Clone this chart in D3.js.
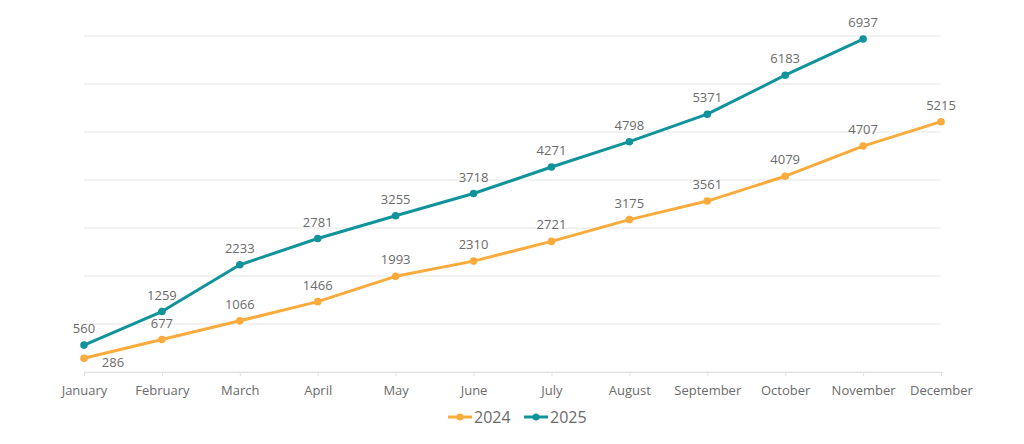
<!DOCTYPE html>
<html lang="en">
  <head>
    <meta charset="UTF-8" />
    <title>Monthly cumulative 2024 vs 2025</title>
    <script src="https://d3js.org/d3.v7.min.js"></script>
    <style>
      body { margin: 0; background: #fff; }
      text { font-family: "Open Sans", "Noto Sans", sans-serif; fill: #6b6b6b; }
      .grid line { stroke: #e6e6e6; stroke-width: 1px; }
    </style>
  </head>
  <body>
    <svg width="1024" height="444"></svg>
    <script>
      const months = ["January", "February", "March", "April", "May", "June",
        "July", "August", "September", "October", "November", "December"];
      const values2024 = [286, 677, 1066, 1466, 1993, 2310, 2721, 3175, 3561, 4079, 4707, 5215];
      const values2025 = [560, 1259, 2233, 2781, 3255, 3718, 4271, 4798, 5371, 6183, 6937];
      const yTicks = [0, 1000, 2000, 3000, 4000, 5000, 6000, 7000];

      const series = [
        { name: "2024", color: "#fbab3c", values: values2024 },
        { name: "2025", color: "#10939a", values: values2025 }
      ];

      const svg = d3.select("svg");

      const x = d3.scalePoint().domain(months).range([84, 941]);
      const y = d3.scaleLinear().domain([0, 7000]).range([372, 36]);

      // horizontal grid
      svg.append("g").attr("class", "grid")
        .selectAll("line")
        .data(yTicks)
        .join("line")
        .attr("x1", 84).attr("x2", 941)
        .attr("y1", d => y(d)).attr("y2", d => y(d));

      // x axis
      const xAxis = svg.append("g")
        .attr("transform", "translate(0," + y(0) + ")")
        .call(d3.axisBottom(x).tickSize(4).tickPadding(10));
      xAxis.select(".domain").attr("stroke", "#e2e2e2");
      xAxis.selectAll(".tick line").attr("stroke", "#e2e2e2");
      xAxis.selectAll(".tick text").attr("font-size", 13).attr("fill", "#6b6b6b");

      const line = d3.line()
        .x((d, i) => x(months[i]))
        .y(d => y(d));

      series.forEach(s => {
        const g = svg.append("g");
        g.append("path")
          .attr("d", line(s.values))
          .attr("fill", "none")
          .attr("stroke", s.color)
          .attr("stroke-width", 3)
          .attr("stroke-linejoin", "round");
        g.selectAll("circle")
          .data(s.values)
          .join("circle")
          .attr("cx", (d, i) => x(months[i]))
          .attr("cy", d => y(d))
          .attr("r", 3.8)
          .attr("fill", s.color);
        g.selectAll("text")
          .data(s.values)
          .join("text")
          .attr("x", (d, i) => x(months[i]) + (s.name === "2024" && i === 0 ? 29 : 0))
          .attr("y", (d, i) => y(d) + (s.name === "2024" && i === 0 ? 9 : -12))
          .attr("text-anchor", "middle")
          .attr("font-size", 13)
          .text(d => d);
      });

      // legend
      const legend = svg.append("g").attr("transform", "translate(448,417)");
      let lx = 0;
      series.forEach(s => {
        const item = legend.append("g").attr("transform", "translate(" + lx + ",0)");
        item.append("line")
          .attr("x1", 0).attr("x2", 24)
          .attr("stroke", s.color).attr("stroke-width", 3);
        item.append("circle").attr("cx", 12).attr("r", 3.5).attr("fill", s.color);
        item.append("text")
          .attr("x", 26).attr("dy", "0.35em")
          .attr("font-size", 16)
          .text(s.name);
        lx += 76;
      });
    </script>
  </body>
</html>
